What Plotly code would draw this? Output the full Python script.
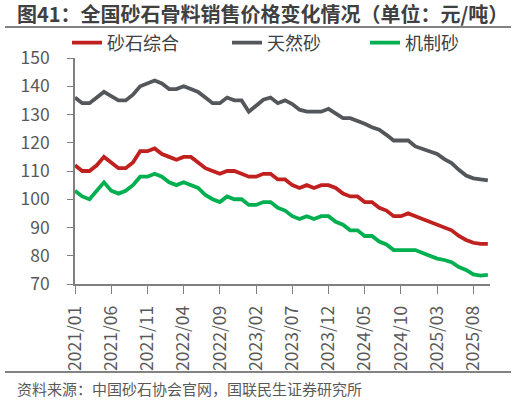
import plotly.graph_objects as go

# monthly data, 2021/01 - 2025/10
months = [f"{y}/{m:02d}" for y in range(2021, 2026) for m in range(1, 13)][:58]

sand_all = [112, 110, 110, 112, 115, 113, 111, 111, 113, 117,
            117, 118, 116, 115, 114, 115, 115, 113, 111, 110,
            109, 110, 110, 109, 108, 108, 109, 109, 107, 107,
            105, 104, 105, 104, 105, 105, 104, 102, 101, 101,
            99, 99, 97, 96, 94, 94, 95, 94, 93, 92,
            91, 90, 89, 87, 85.6, 84.6, 84.2, 84.2]

natural_sand = [136, 134, 134, 136, 138, 136.5, 135, 135, 137, 140,
                141, 142, 141, 139, 139, 140, 139, 138, 136, 134,
                134, 136, 135, 135, 131, 133, 135.2, 136, 134, 135,
                133.7, 131.7, 131, 131, 131, 132, 130.5, 128.7, 128.7, 127.8,
                126.7, 125.5, 124.6, 122.8, 120.8, 120.8, 120.8, 118.7, 117.7, 117,
                116, 114.2, 112.8, 110.4, 108.4, 107.4, 107.1, 106.7]

machine_sand = [103, 101, 100, 103, 106, 103, 102, 103, 105, 108,
                108, 109, 108, 106, 105, 106, 105, 104, 101.5, 100,
                99, 101, 100, 100, 98, 98, 99, 99, 97, 96,
                94, 93, 94, 93, 94, 94, 92, 91, 89, 89,
                87, 87, 85, 84, 82, 82, 82, 82, 81, 80,
                79, 78.5, 77.7, 76, 75, 73.4, 73, 73.2]

series_names = ["砂石综合", "天然砂", "机制砂"]
series_colors = ["#C0211F", "#53575B", "#00B050"]
tick_labels = months[::5]

title_text = "图41：全国砂石骨料销售价格变化情况（单位：元/吨）"
source_text = "资料来源：中国砂石协会官网，国联民生证券研究所"

font_family = "Noto Sans CJK SC, Noto Sans, sans-serif"

# plot area in pixels: left 75, right 490, top 58, bottom 284
PW, PH = 415, 226


def px_x(x):
    return (x - 75) / PW


def px_y(y):
    return (284 - y) / PH


fig = go.Figure()
legend_ids = ["legend", "legend2", "legend3"]
for name, values, color, lg in zip(series_names, [sand_all, natural_sand, machine_sand],
                                   series_colors, legend_ids):
    fig.add_trace(go.Scatter(x=months, y=values, name=name, mode="lines", legend=lg,
                             line=dict(color=color, width=3.8)))

# one legend per series so each entry sits where the reference has it
legend_style = dict(orientation="h", xanchor="left", y=px_y(43), yanchor="middle",
                    font=dict(size=18, color="#404040"), bgcolor="rgba(0,0,0,0)")

fig.update_layout(
    width=516, height=400,
    margin=dict(l=75, r=26, t=58, b=116, autoexpand=False),
    paper_bgcolor="white", plot_bgcolor="white",
    font=dict(family=font_family, color="#595959"),
    showlegend=True,
    legend=dict(x=px_x(67), **legend_style),
    legend2=dict(x=px_x(227), **legend_style),
    legend3=dict(x=px_x(365), **legend_style),
    xaxis=dict(type="category", range=[0, 57.3], tickmode="array",
               tickvals=tick_labels, ticktext=tick_labels, tickangle=-90,
               showgrid=False, showline=True, linecolor="#808080", linewidth=1.5,
               ticks="outside", ticklen=8, tickcolor="#808080", ticklabelstandoff=5,
               tickfont=dict(size=17.5, color="#595959"), zeroline=False),
    yaxis=dict(range=[70, 150], dtick=10, showgrid=False, showline=True,
               linecolor="#808080", linewidth=1.5, ticks="outside", ticklen=6,
               tickcolor="#808080", ticklabelstandoff=14,
               tickfont=dict(size=17.5, color="#595959"), zeroline=False),
)

# title, rules and source
fig.add_annotation(text="<b>" + title_text + "</b>", xref="paper", yref="paper",
                   x=px_x(15), y=px_y(14), xanchor="left", yanchor="middle",
                   showarrow=False, font=dict(size=20, color="#404040"))
fig.add_annotation(text=source_text, xref="paper", yref="paper",
                   x=px_x(15), y=px_y(388), xanchor="left", yanchor="middle",
                   showarrow=False, font=dict(size=15, color="#595959"))
for rule_y in [27, 372]:
    fig.add_shape(type="line", xref="paper", yref="paper",
                  x0=px_x(5), x1=px_x(511), y0=px_y(rule_y), y1=px_y(rule_y),
                  line=dict(color="#595959", width=1.5))

fig.write_html("out.html", config={"displayModeBar": False},
               post_script="document.body.style.margin='0';")
